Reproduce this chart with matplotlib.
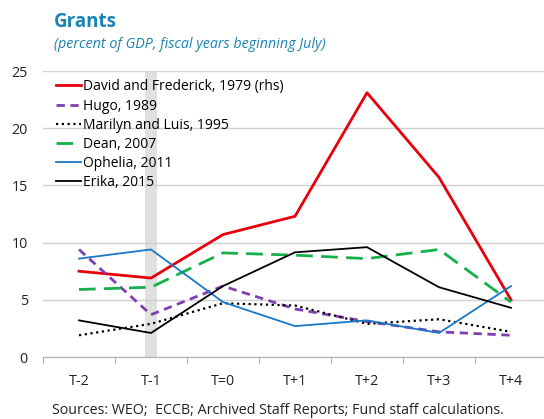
import matplotlib.pyplot as plt

# --- datos (porcentaje del PIB) ---
periodos = ["T-2", "T-1", "T=0", "T+1", "T+2", "T+3", "T+4"]
david = [7.5, 6.9, 10.7, 12.3, 23.1, 15.7, 5.0]
hugo = [9.4, 3.7, 6.2, 4.2, 3.1, 2.2, 1.9]
marilyn = [1.9, 2.9, 4.7, 4.5, 2.9, 3.3, 2.2]
dean = [5.9, 6.1, 9.1, 8.9, 8.6, 9.4, 4.8]
ophelia = [8.6, 9.4, 4.8, 2.7, 3.2, 2.1, 6.2]
erika = [3.2, 2.1, 6.2, 9.15, 9.6, 6.1, 4.3]

plt.rcParams["font.family"] = ["Open Sans", "DejaVu Sans"]

fig = plt.figure(figsize=(5.44, 4.19), dpi=100)
ax = fig.add_axes([43 / 544, 1 - 357 / 419, 504 / 544, 286 / 419])

x = range(len(periodos))
ax.axvspan(1 - 0.09, 1 + 0.09, color="#e0e0e0", zorder=0, lw=0)

ax.plot(x, david, color="#e8000b", lw=2.0, label="David and Frederick, 1979 (rhs)", zorder=3)
ax.plot(x, hugo, color="#7f3fb0", lw=2.0, ls=(0, (3, 2)), label="Hugo, 1989", zorder=3)
ax.plot(x, marilyn, color="black", lw=1.6, ls=(0, (1, 1.6)), label="Marilyn and Luis, 1995", zorder=3)
ax.plot(x, dean, color="#14b04a", lw=2.0, ls=(0, (6, 3)), label="Dean, 2007", zorder=3)
ax.plot(x, ophelia, color="#1878c8", lw=1.3, label="Ophelia, 2011", zorder=3)
ax.plot(x, erika, color="black", lw=1.3, label="Erika, 2015", zorder=3)

ax.set_xlim(-0.5, 6.5)
ax.set_ylim(0, 25)
ax.set_yticks([0, 5, 10, 15, 20, 25])
ax.grid(axis="y", color="#d0d0d0", lw=1.0)
ax.set_axisbelow(True)

# marcas entre categorias, etiquetas centradas
ax.set_xticks([i + 0.5 for i in range(-1, 7)], minor=False)
ax.set_xticklabels([])
ax.set_xticks(list(x), minor=True)
ax.set_xticklabels(periodos, minor=True)
ax.tick_params(axis="x", which="major", length=4, color="#b0b0b0", direction="out")
ax.tick_params(axis="x", which="minor", length=0, pad=12, labelsize=10.3, colors="#222222")
ax.tick_params(axis="y", length=0, pad=11, labelsize=10.3, colors="#222222")

for s in ["left", "right", "top"]:
    ax.spines[s].set_visible(False)
ax.spines["bottom"].set_color("#b0b0b0")

leg = ax.legend(loc="upper left", bbox_to_anchor=(0.01, 1.0), frameon=False,
                fontsize=10, handlelength=1.8, handletextpad=0.15,
                labelspacing=0.3, borderaxespad=0.2)

fig.text(54 / 544, 1 - 22 / 419, "Grants", color="#1a84b4", fontsize=13.5,
         fontweight="bold", va="center")
fig.text(54 / 544, 1 - 45 / 419, "(percent of GDP, fiscal years beginning July)",
         color="#1a84b4", fontsize=10.3, style="italic", va="center")
fig.text(278 / 544, 1 - 410 / 419,
         "Sources: WEO;  ECCB; Archived Staff Reports; Fund staff calculations.",
         color="#222222", fontsize=10.3, ha="center", va="center")

fig.savefig("out.png", dpi=100)
